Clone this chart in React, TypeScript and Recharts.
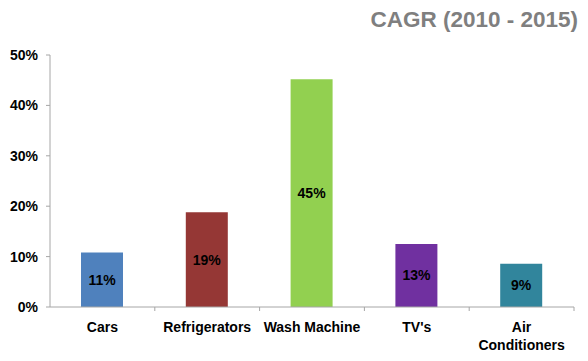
import React from "react";
import { BarChart, Bar, XAxis, YAxis, Cell, LabelList } from "recharts";

const categories = ["Cars", "Refrigerators", "Wash Machine", "TV's", "Air Conditioners"];
const cagrValues = [0.108, 0.188, 0.452, 0.125, 0.086];
const barColors = ["#4F81BD", "#953735", "#92D050", "#7030A0", "#31859C"];
const yTicks = [0, 0.1, 0.2, 0.3, 0.4, 0.5];
const chartTitle = "CAGR (2010 - 2015)";

const data = categories.map((name, i) => ({ name, value: cagrValues[i] }));

const FONT = "'Liberation Sans', Arial, Helvetica, sans-serif";
const AXIS_COLOR = "#A6A6A6";

const pct = (v: number) => `${Math.round(v * 100)}%`;

const CategoryTick = (props: any) => {
  const { x, y, payload } = props;
  const label: string = String(payload.value);
  const lines = label === "Air Conditioners" ? ["Air", "Conditioners"] : [label];
  const off = payload.offset ?? 0;
  return (
    <g>
      <line x1={x + off} y1={y} x2={x + off} y2={y + 4} stroke={AXIS_COLOR} strokeWidth={1} />
      <text
        x={x}
        y={y + 25}
        textAnchor="middle"
        fontFamily={FONT}
        fontWeight="bold"
        fontSize={14}
        fill="#000"
      >
        {lines.map((l, i) => (
          <tspan key={i} x={x} dy={i === 0 ? 0 : 17.6}>
            {l}
          </tspan>
        ))}
      </text>
    </g>
  );
};

export default function App() {
  return (
    <div style={{ position: "fixed", left: 0, top: 0, width: 588, height: 361, background: "#fff" }}>
      <div
        style={{
          position: "absolute",
          right: 10,
          top: 7,
          fontFamily: FONT,
          fontWeight: "bold",
          fontSize: 22.5,
          color: "#7F7F7F",
          lineHeight: "26px",
          whiteSpace: "nowrap",
        }}
      >
        {chartTitle}
      </div>
      <BarChart width={588} height={361} data={data} margin={{ top: 55, right: 14, left: 0, bottom: 0 }}>
        <XAxis
          dataKey="name"
          height={54}
          interval={0}
          tickLine={false}
          tickSize={0}
          tickMargin={0}
          axisLine={{ stroke: AXIS_COLOR }}
          tick={<CategoryTick />}
        />
        <YAxis
          width={50}
          domain={[0, 0.5]}
          ticks={yTicks}
          tickFormatter={pct}
          tickSize={4}
          tickMargin={8}
          axisLine={{ stroke: AXIS_COLOR }}
          tickLine={{ stroke: AXIS_COLOR }}
          tick={{ fontFamily: FONT, fontWeight: "bold", fontSize: 14, fill: "#000" }}
        />
        <Bar dataKey="value" barSize={42} isAnimationActive={false}>
          {data.map((d, i) => (
            <Cell key={d.name} fill={barColors[i]} />
          ))}
          <LabelList
            dataKey="value"
            position="center"
            formatter={(v: any) => pct(Number(v))}
            style={{ fontFamily: FONT, fontWeight: "bold", fontSize: 14, fill: "#000" }}
          />
        </Bar>
      </BarChart>
    </div>
  );
}
